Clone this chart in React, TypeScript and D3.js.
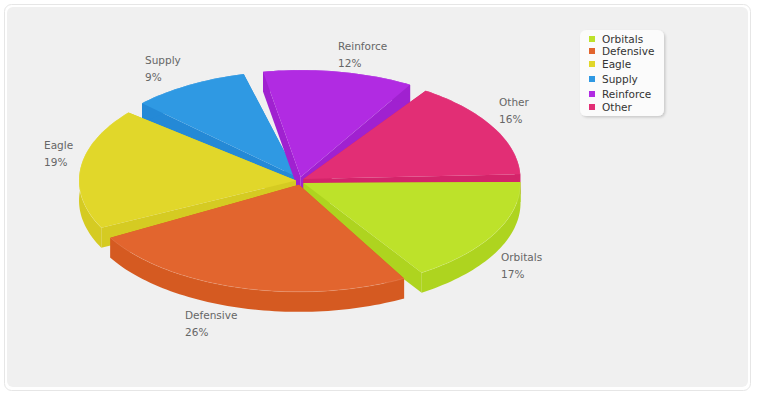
import React from "react";
import * as d3 from "d3";

const categories = ["Orbitals", "Defensive", "Eagle", "Supply", "Reinforce", "Other"];
const values = [17.0, 26.4, 19.4, 9.3, 11.9, 15.7];
const gapsBefore = [0, 4, 3.5, 4.6, 4.5, 4];
const topColors = ["#bde22a", "#e2652e", "#e1d72a", "#2f99e3", "#b12be2", "#e22e75"];
const wallColors = ["#aed41f", "#d55a21", "#d5cb22", "#2489d6", "#a021d0", "#d4246a"];
const paintOrder = ["Supply", "Reinforce", "Other", "Eagle", "Orbitals", "Defensive"];
const labelAnchors: Record<string, [number, number]> = {
  Orbitals: [501, 261],
  Defensive: [185, 319],
  Eagle: [44, 149],
  Supply: [145, 64],
  Reinforce: [338, 50],
  Other: [499, 106],
};
const legendRows = [39, 51, 64, 79, 94, 107];

const FONT = "'DejaVu Sans', sans-serif";
const cx = 300, cy = 181, rx = 217, ry = 107, depth = 20, explode = 4;
const rad = Math.PI / 180;
const degPerUnit = 3.383;

type P = [number, number];

export default function App() {
  const span = d3.scaleLinear().domain([0, 100]).range([0, degPerUnit * 100]);
  const line = d3.line<P>();
  let cursor = -0.5;

  const slices = values.map((v, i) => {
    cursor += gapsBefore[i];
    const t0 = cursor * rad;
    cursor += span(v);
    const t1 = cursor * rad;
    const mid = (t0 + t1) / 2;
    const apex: P = [cx + explode * Math.cos(mid), cy + explode * Math.sin(mid)];
    const n = Math.max(8, Math.ceil((t1 - t0) * 40));
    const rim: P[] = d3.range(n + 1).map((k) => {
      const t = t0 + ((t1 - t0) * k) / n;
      return [apex[0] + rx * Math.cos(t), apex[1] + ry * Math.sin(t)] as P;
    });
    const down = (p: P): P => [p[0], p[1] + depth];
    const first = rim[0];
    const last = rim[rim.length - 1];
    return {
      name: categories[i],
      top: line([apex, ...rim])! + "Z",
      walls: [
        line([apex, first, down(first), down(apex)])! + "Z",
        line([apex, last, down(last), down(apex)])! + "Z",
        line([...rim, ...rim.map(down).reverse()])! + "Z",
      ],
      edge: line(rim)!,
      fill: topColors[i],
      wall: wallColors[i],
    };
  });
  const ordered = paintOrder.map((n) => slices.find((s) => s.name === n)!);

  return (
    <svg
      width={760}
      height={400}
      style={{ position: "absolute", left: 0, top: 0, background: "#ffffff" }}
    >
      <defs>
        <filter id="legendShadow" x="-20%" y="-20%" width="140%" height="140%">
          <feDropShadow dx="1.5" dy="1.5" stdDeviation="1" floodColor="#000" floodOpacity="0.16" />
        </filter>
      </defs>
      <rect x={4.5} y={4.5} width={746} height={386} rx={7} fill="#fff" stroke="#e6e6e6" strokeWidth={1} />
      <rect x={7} y={7} width={741} height={380} rx={6} fill="#f0f0f0" />

      {ordered.map((s) => (
        <g key={s.name}>
          {s.walls.map((d, i) => (
            <path key={i} d={d} fill={s.wall} />
          ))}
          <path d={s.top} fill={s.fill} />
          <path d={s.edge} fill="none" stroke="#fff" strokeOpacity={0.12} strokeWidth={1} />
        </g>
      ))}

      {categories.map((c, i) => {
        const [x, y] = labelAnchors[c];
        return (
          <g key={c} fontFamily={FONT} fontSize={10.5} fill="#666">
            <text x={x} y={y}>{c}</text>
            <text x={x} y={y + 17}>{Math.round(values[i])}%</text>
          </g>
        );
      })}

      <rect x={580} y={30} width={84} height={86} rx={6} fill="#fbfbfb" filter="url(#legendShadow)" />
      {categories.map((c, i) => (
        <g key={c}>
          <rect x={589} y={legendRows[i] - 3} width={6} height={6} fill={topColors[i]} />
          <text x={602} y={legendRows[i] + 4} fontFamily={FONT} fontSize={10.5} fill="#333">{c}</text>
        </g>
      ))}
    </svg>
  );
}
